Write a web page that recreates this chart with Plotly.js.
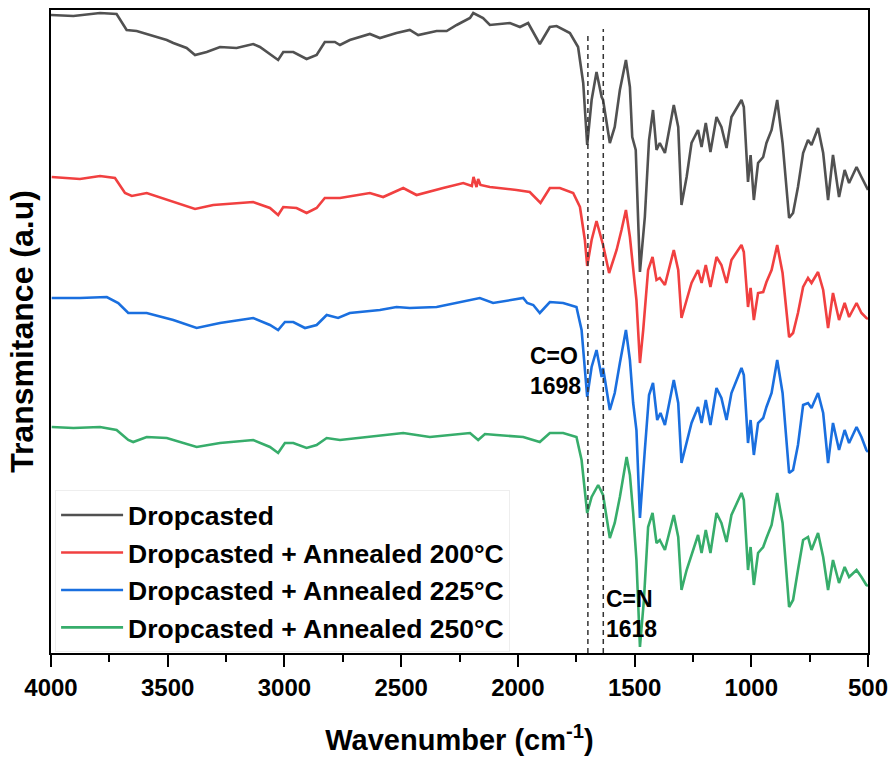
<!DOCTYPE html>
<html>
<head>
<meta charset="utf-8">
<script src="https://cdn.plot.ly/plotly-3.0.1.min.js"></script>
<style>html,body{margin:0;padding:0;background:#fff;}#chart{width:894px;height:761px;}</style>
</head>
<body>
<div id="chart"></div>
<script>
// Series names
const seriesNames = ["Dropcasted", "Dropcasted + Annealed 200\u00B0C", "Dropcasted + Annealed 225\u00B0C", "Dropcasted + Annealed 250\u00B0C"];

// Dropcasted (wavenumber cm-1, transmittance a.u., stacked)
const wnDrop = [4000,3904,3790,3719,3676,3633,3504,3476,3419,3383,3333,3276,3205,3134,3105,3027,3005,2962,2905,2862,2827,2784,2762,2720,2634,2591,2520,2463,2427,2348,2305,2262,2205,2191,2149,2120,2034,1991,1956,1934,1906,1863,1834,1777,1742,1720,1703,1684,1663,1641,1635,1606,1585,1563,1537,1520,1510,1495,1477,1456,1438,1421,1406,1392,1370,1332,1313,1299,1277,1256,1228,1213,1195,1175,1149,1128,1106,1085,1042,1032,1014,1003,989,971,949,935,913,889,866,838,821,800,778,757,742,714,692,671,650,624,600,581,549,528,507,500];
const tDrop = [63.8,63.7,64.0,63.9,62.3,62.2,61.3,61.0,60.5,59.8,60.1,60.6,60.5,60.9,60.6,59.3,60.1,60.1,59.4,59.8,61.1,61.1,60.8,61.3,61.9,61.5,62.0,62.3,61.8,62.2,62.2,62.8,63.5,64.0,63.5,62.8,63.0,62.6,63.0,62.1,60.9,62.6,62.7,62.0,60.6,57.0,50.8,55.3,58.1,55.6,55.3,51.0,52.6,56.3,59.3,56.6,51.6,50.3,38.1,43.6,51.3,54.3,50.3,51.0,50.0,54.8,52.6,44.8,47.6,51.0,52.3,50.6,53.0,50.1,53.6,52.6,50.5,53.6,55.3,54.6,47.1,49.8,45.3,49.0,49.6,51.0,52.3,55.3,51.0,43.5,44.0,46.6,50.0,51.3,50.8,52.5,50.0,45.3,49.8,45.6,48.3,47.0,48.6,47.6,46.5,46.3];

// Annealed 200 C
const wn200 = [3997,3876,3790,3726,3683,3654,3590,3476,3383,3305,3191,3134,3062,3027,3005,2948,2905,2862,2827,2762,2634,2577,2491,2434,2320,2234,2197,2190,2177,2170,2160,2120,2006,1949,1903,1863,1820,1763,1734,1713,1703,1684,1663,1641,1635,1609,1577,1556,1537,1520,1506,1492,1477,1463,1442,1423,1406,1392,1370,1332,1313,1299,1277,1256,1228,1213,1195,1175,1149,1128,1106,1085,1042,1032,1014,1003,989,971,949,935,913,889,866,838,821,800,778,757,742,714,692,671,650,624,600,581,549,528,507,500];
const t200 = [47.6,47.4,47.7,47.5,46.0,45.7,46.0,45.1,44.4,44.8,45.0,45.1,44.5,43.8,44.6,44.5,44.0,44.5,45.5,45.5,46.0,45.6,46.5,45.8,46.5,47.0,46.7,47.6,46.6,47.4,46.8,46.6,46.3,46.1,45.0,46.5,46.5,46.0,44.6,41.3,38.7,41.3,43.2,41.3,40.8,38.0,40.3,42.3,44.3,41.6,38.6,35.3,29.0,32.3,38.3,39.6,37.3,37.5,36.8,40.3,38.3,33.5,35.3,37.0,38.3,37.0,38.8,36.6,39.6,38.8,37.0,39.3,40.8,40.1,34.6,36.5,33.3,36.0,36.1,37.1,38.3,40.8,38.0,31.6,32.0,34.0,36.6,37.5,37.0,38.1,36.3,32.5,36.0,33.3,35.0,33.6,35.0,34.0,33.5,33.4];

// Annealed 225 C
const wn225 = [3997,3876,3761,3712,3669,3590,3476,3376,3276,3134,3062,3027,2998,2962,2912,2862,2819,2770,2720,2591,2520,2463,2348,2262,2163,2106,2034,1977,1960,1934,1906,1863,1806,1749,1727,1713,1703,1684,1663,1641,1635,1606,1585,1563,1537,1520,1506,1492,1477,1456,1438,1421,1403,1389,1370,1332,1313,1299,1277,1256,1228,1213,1195,1175,1149,1128,1106,1085,1042,1032,1014,1003,989,971,949,935,913,889,866,838,821,800,778,757,742,714,692,671,650,624,600,581,549,528,507,500];
const t225 = [35.5,35.5,35.6,35.0,34.0,34.0,33.3,32.5,33.0,33.5,32.8,32.3,33.1,33.1,32.5,32.8,33.8,33.5,34.0,34.3,34.6,34.5,34.6,35.0,35.5,35.0,35.3,35.5,35.0,34.8,34.0,35.1,35.0,34.6,32.3,28.0,25.6,28.6,30.3,27.6,28.5,24.3,26.0,29.0,32.3,29.3,25.0,22.3,13.5,20.3,25.8,27.0,23.3,24.0,22.8,27.3,25.0,19.0,21.0,23.0,24.6,23.0,25.3,22.8,26.5,25.5,23.3,26.0,28.5,27.8,21.0,23.3,19.8,23.0,23.5,24.6,26.0,29.3,26.0,18.0,18.3,20.8,24.8,25.0,24.5,26.0,24.0,19.0,23.0,20.3,22.3,21.0,22.6,21.6,20.3,20.1];

// Annealed 250 C
const wn250 = [3997,3904,3790,3719,3669,3648,3590,3504,3376,3276,3134,3062,3027,2998,2962,2905,2862,2819,2762,2634,2491,2377,2205,2170,2141,2091,1977,1906,1863,1806,1749,1727,1713,1703,1684,1656,1635,1606,1585,1563,1534,1520,1506,1492,1477,1460,1442,1423,1406,1392,1370,1332,1313,1299,1277,1256,1228,1213,1195,1175,1149,1128,1106,1085,1042,1032,1014,1003,989,971,949,935,913,889,866,838,821,800,778,757,742,714,692,671,650,624,600,581,549,528,507,500];
const t250 = [22.6,22.5,22.6,22.3,21.3,21.1,21.6,21.5,20.6,21.0,21.3,20.6,20.0,21.0,21.0,20.5,20.8,21.5,21.3,21.6,22.0,21.6,22.0,21.3,21.9,21.8,21.6,21.1,22.0,22.0,21.6,19.3,16.3,14.0,15.6,16.8,15.8,11.5,13.0,15.6,19.6,17.8,14.0,9.3,0.6,5.3,12.6,14.0,11.0,11.3,10.3,13.8,11.6,6.3,8.3,9.8,11.8,10.0,12.3,10.0,14.0,13.0,11.1,13.8,16.0,15.3,8.3,10.6,6.8,10.0,10.6,11.5,12.8,16.0,13.0,4.6,5.3,8.3,11.3,11.6,10.3,12.0,9.6,6.3,9.3,7.0,8.6,7.6,8.3,7.6,6.8,6.7];

const seriesColors = ["#515151", "#F14040", "#1A6FDF", "#37AD6B"];

// Band markers
const bandLines = [1700, 1634];
const bandLineTops = [62.0, 62.4];
const bandLabels = ["C=O<br>1698", "C=N<br>1618"];

const tickVals = [4000, 3500, 3000, 2500, 2000, 1500, 1000, 500];

const FONT = "Arial, 'Liberation Sans', Helvetica, sans-serif";

const xs = [wnDrop, wn200, wn225, wn250];
const ys = [tDrop, t200, t225, t250];
const traces = xs.map((x, i) => ({
  x: x, y: ys[i], type: 'scatter', mode: 'lines', name: seriesNames[i],
  line: {color: seriesColors[i], width: 2.6}
}));

const shapes = bandLines.map((b, i) => ({
  type: 'line', xref: 'x', yref: 'y', x0: b, x1: b, y0: 0, y1: bandLineTops[i],
  line: {color: '#333333', width: 1.5, dash: '5px,4px'}
}));

const annotations = [
  {x: 1722, y: 28.2, xref: 'x', yref: 'y', text: '<b>' + bandLabels[0] + '</b>', showarrow: false,
   xanchor: 'right', yanchor: 'middle', align: 'left', font: {family: FONT, size: 23, color: '#000'}},
  {x: 1632, y: 3.9, xref: 'x', yref: 'y', text: '<b>' + bandLabels[1] + '</b>', showarrow: false,
   xanchor: 'left', yanchor: 'middle', align: 'left', font: {family: FONT, size: 23, color: '#000'}}
];

const layout = {
  width: 894, height: 761,
  margin: {l: 51, r: 26, t: 10, b: 108},
  paper_bgcolor: '#fff', plot_bgcolor: '#fff',
  showlegend: true,
  legend: {
    x: 0.005, y: 0.253, xanchor: 'left', yanchor: 'top',
    font: {family: FONT, size: 26.5, color: '#000', weight: 'bold'},
    bgcolor: 'rgba(255,255,255,1)', bordercolor: '#eeeeee', borderwidth: 1,
    tracegroupgap: 0, itemwidth: 62
  },
  xaxis: {
    range: [4000, 500], autorange: false,
    tickvals: tickVals, ticktext: tickVals.map(String),
    ticks: 'outside', ticklen: 12, tickwidth: 2, tickcolor: '#000',
    minor: {dtick: 250, tick0: 500, ticks: 'outside', ticklen: 7, tickwidth: 2, tickcolor: '#000'},
    showline: true, linewidth: 2, linecolor: '#000', mirror: true,
    showgrid: false, zeroline: false,
    tickfont: {family: FONT, size: 24, color: '#000', weight: 'bold'},
    title: {text: 'Wavenumber (cm<sup>-1</sup>)', font: {family: FONT, size: 29, color: '#000', weight: 'bold'}, standoff: 30}
  },
  yaxis: {
    range: [0, 64.3], autorange: false,
    showticklabels: false, ticks: '',
    showline: true, linewidth: 2, linecolor: '#000', mirror: true,
    showgrid: false, zeroline: false,
    title: {text: 'Transmitance (a.u)', font: {family: FONT, size: 32, color: '#000', weight: 'bold'}, standoff: 6}
  },
  shapes: shapes,
  annotations: annotations
};

Plotly.newPlot('chart', traces, layout, {displayModeBar: false, staticPlot: true});
</script>
</body>
</html>
